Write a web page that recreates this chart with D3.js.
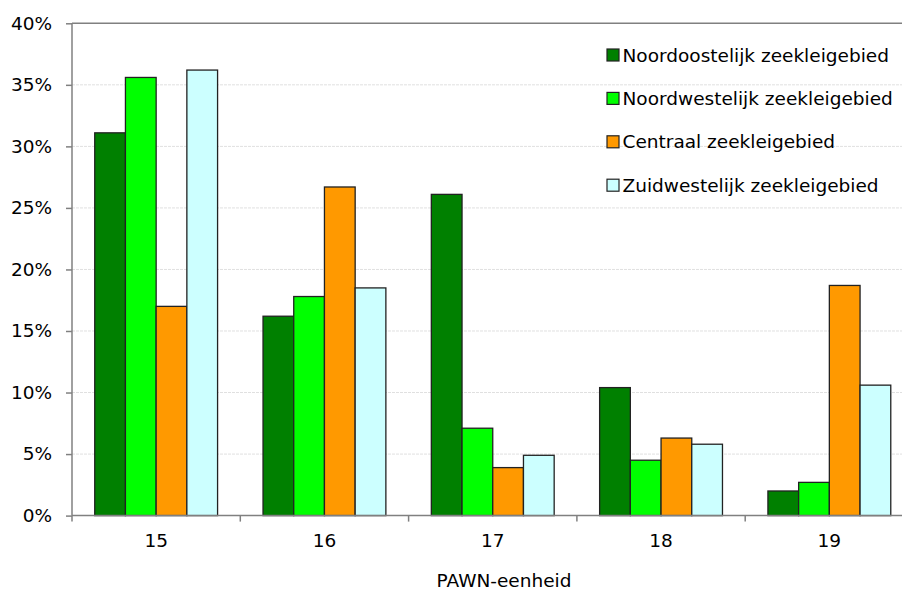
<!DOCTYPE html>
<html>
<head>
<meta charset="utf-8">
<script src="https://cdn.jsdelivr.net/npm/d3@7"></script>
<style>
  html, body { margin: 0; padding: 0; background: #fff; }
  svg { display: block; }
  text { font-family: "DejaVu Sans", Verdana, sans-serif; fill: #000; }
</style>
</head>
<body>
<svg id="chart" width="902" height="590"></svg>
<script>
// PAWN units on the x axis
const categories = ["15", "16", "17", "18", "19"];
// Regions, one bar per region in each unit
const seriesNames = [
  "Noordoostelijk zeekleigebied",
  "Noordwestelijk zeekleigebied",
  "Centraal zeekleigebied",
  "Zuidwestelijk zeekleigebied"
];
const seriesColors = ["#008000", "#00ff00", "#ff9900", "#ccffff"];
// Share (%) per region, in the order of categories
const noordoostelijk = [31.1, 16.2, 26.1, 10.4, 2.0];
const noordwestelijk = [35.6, 17.8, 7.1, 4.5, 2.7];
const centraal       = [17.0, 26.7, 3.9, 6.3, 18.7];
const zuidwestelijk  = [36.2, 18.5, 4.9, 5.8, 10.6];
const seriesValues = [noordoostelijk, noordwestelijk, centraal, zuidwestelijk];
const yTicks = [0, 5, 10, 15, 20, 25, 30, 35, 40];
const xTitle = "PAWN-eenheid";

const fontSize = 18.5;
const svg = d3.select("#chart");
const plotLeft = 72, plotRight = 913.5, plotTop = 23.3, plotBottom = 515.6;

const x = d3.scaleBand().domain(categories).range([plotLeft, plotRight]).padding(0);
const xInner = d3.scaleBand().domain(d3.range(seriesNames.length))
  .range([0, x.bandwidth()]).paddingInner(0).paddingOuter(0.74);
const y = d3.scaleLinear().domain([0, 40]).range([plotBottom, plotTop]);

// horizontal gridlines
svg.append("g").selectAll("line")
  .data(yTicks.filter(t => t > 0 && t < 40))
  .join("line")
  .attr("x1", plotLeft).attr("x2", 902)
  .attr("y1", d => y(d)).attr("y2", d => y(d))
  .attr("stroke", "#e0e0e0").attr("stroke-width", 1)
  .attr("stroke-dasharray", "3,1");

// top border of the plot area
svg.append("line")
  .attr("x1", plotLeft).attr("x2", 902)
  .attr("y1", y(40)).attr("y2", y(40))
  .attr("stroke", "#808080").attr("stroke-width", 1.5);

// bars
const rows = [];
categories.forEach((c, ci) => {
  seriesValues.forEach((vals, si) => rows.push({ c, si, v: vals[ci] }));
});
svg.append("g").selectAll("rect")
  .data(rows)
  .join("rect")
  .attr("x", d => x(d.c) + xInner(d.si))
  .attr("width", xInner.bandwidth())
  .attr("y", d => y(d.v))
  .attr("height", d => y(0) - y(d.v))
  .attr("fill", d => seriesColors[d.si])
  .attr("stroke", "#222").attr("stroke-width", 1.3);

// y axis
const yAxis = d3.axisLeft(y).tickValues(yTicks).tickFormat(d => d + "%")
  .tickSize(6).tickPadding(14);
const yg = svg.append("g").attr("transform", `translate(${plotLeft},0)`).call(yAxis);
yg.select(".domain").attr("stroke", "#808080").attr("stroke-width", 1.5).attr("d", `M0,${plotTop}V${plotBottom}`);
yg.selectAll(".tick line").attr("stroke", "#808080").attr("stroke-width", 1.5);
yg.selectAll(".tick text").attr("font-size", fontSize).attr("font-family", "DejaVu Sans, Verdana, sans-serif").attr("fill", "#000");

// x axis: ticks at category boundaries, labels centred under groups
const xg = svg.append("g").attr("transform", `translate(0,${plotBottom})`);
xg.append("line").attr("x1", plotLeft).attr("x2", 902).attr("y1", 0).attr("y2", 0)
  .attr("stroke", "#808080").attr("stroke-width", 1.5);
xg.selectAll("line.tk")
  .data(categories)
  .join("line").attr("class", "tk")
  .attr("x1", d => x(d)).attr("x2", d => x(d))
  .attr("y1", 0).attr("y2", 6)
  .attr("stroke", "#808080").attr("stroke-width", 1.5);
xg.selectAll("text")
  .data(categories)
  .join("text")
  .attr("x", d => x(d) + x.bandwidth() / 2)
  .attr("y", 31)
  .attr("text-anchor", "middle")
  .attr("font-size", fontSize)
  .text(d => d);

// axis title
svg.append("text")
  .attr("x", 504).attr("y", 587)
  .attr("text-anchor", "middle")
  .attr("font-size", fontSize)
  .text(xTitle);

// legend
const legend = svg.append("g");
seriesNames.forEach((name, i) => {
  const cy = 55 + i * 43.4;
  legend.append("rect")
    .attr("x", 607).attr("y", cy - 6).attr("width", 12).attr("height", 12)
    .attr("fill", seriesColors[i]).attr("stroke", "#222").attr("stroke-width", 1.2);
  legend.append("text")
    .attr("x", 622.5).attr("y", cy + 6.5)
    .attr("font-size", fontSize)
    .text(name);
});
</script>
</body>
</html>
